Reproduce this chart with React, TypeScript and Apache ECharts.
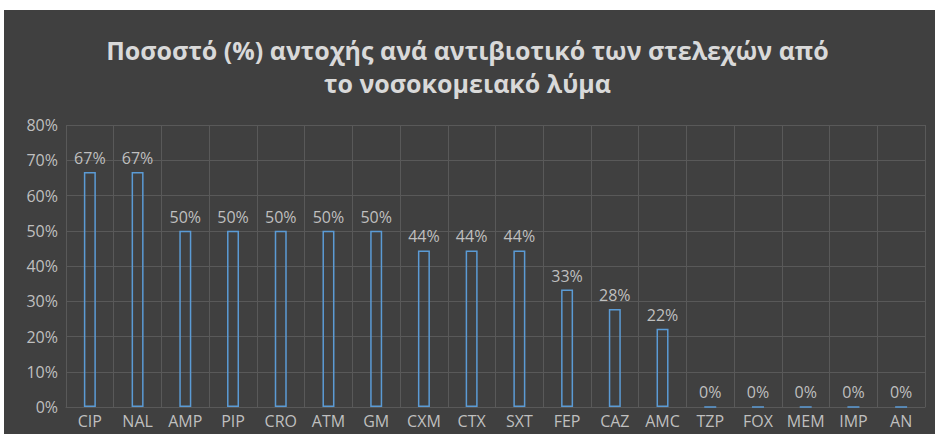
import React, { useEffect, useRef } from "react";
import * as echarts from "echarts";

const titleText = "Ποσοστό (%) αντοχής ανά αντιβιοτικό των στελεχών από\nτο νοσοκομειακό λύμα";
const categories = ["CIP", "NAL", "AMP", "PIP", "CRO", "ATM", "GM", "CXM", "CTX", "SXT", "FEP", "CAZ", "AMC", "TZP", "FOX", "MEM", "IMP", "AN"];
const resistance = [66.7, 66.7, 50, 50, 50, 50, 50, 44.4, 44.4, 44.4, 33.3, 27.8, 22.2, 0, 0, 0, 0, 0];

export default function App() {
  const ref = useRef<HTMLDivElement>(null);
  useEffect(() => {
    if (!ref.current) return;
    const chart = echarts.init(ref.current, undefined, { renderer: "svg" });
    const font = "Open Sans";
    chart.setOption({
      animation: false,
      backgroundColor: "#ffffff",
      graphic: [
        {
          type: "rect",
          z: -10,
          silent: true,
          shape: { x: 4, y: 10, width: 931, height: 424 },
          style: { fill: "#404040" },
        },
      ],
      title: {
        text: titleText,
        left: "center",
        top: 28,
        textStyle: {
          color: "#D9D9D9",
          fontFamily: "Open Sans",
          fontWeight: "bold",
          fontSize: 25,
          lineHeight: 33,
        },
      },
      grid: { left: 66, right: 10, top: 125, bottom: 27, containLabel: false },
      xAxis: {
        type: "category",
        data: categories,
        axisLine: { show: true, lineStyle: { color: "#595959", width: 1 } },
        axisTick: { show: false },
        splitLine: { show: true, lineStyle: { color: "#595959", width: 1 } },
        axisLabel: { color: "#BFBFBF", fontFamily: font, fontSize: 16, margin: 6, interval: 0 },
      },
      yAxis: {
        type: "value",
        min: 0,
        max: 80,
        interval: 10,
        axisLine: { show: false },
        axisTick: { show: false },
        splitLine: { show: true, lineStyle: { color: "#595959", width: 1 } },
        axisLabel: {
          color: "#BFBFBF",
          fontFamily: font,
          fontSize: 16,
          margin: 8,
          formatter: (v: number) => `${v}%`,
        },
      },
      series: [
        {
          type: "bar",
          data: resistance,
          barWidth: 12,
          itemStyle: { color: "rgba(0,0,0,0)", borderColor: "#5B9BD5", borderWidth: 1.5 },
          label: {
            show: true,
            position: "top",
            distance: 6,
            color: "#BFBFBF",
            fontFamily: font,
            fontSize: 16,
            formatter: (p: any) => `${Math.round(p.value)}%`,
          },
        },
      ],
    });
    return () => chart.dispose();
  }, []);
  return (
    <div style={{ position: "fixed", left: 0, top: 0, width: 935, height: 434 }}>
      <div ref={ref} style={{ width: 935, height: 434 }} />
    </div>
  );
}
